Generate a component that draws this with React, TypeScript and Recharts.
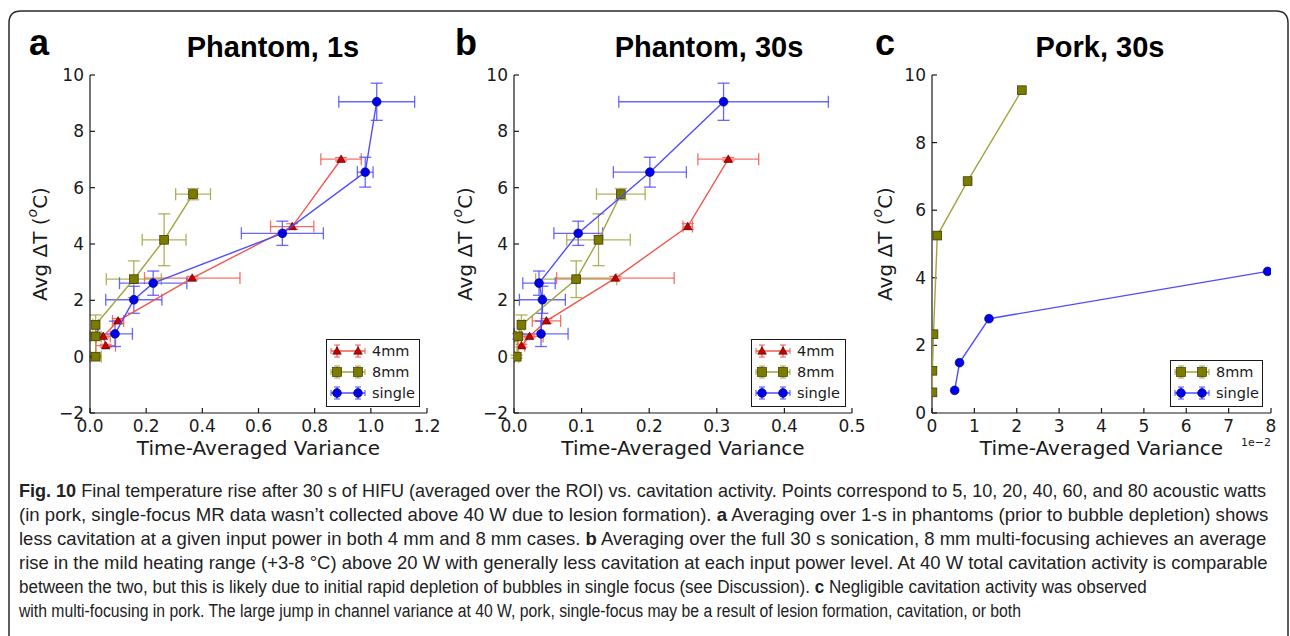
import React, { useLayoutEffect, useRef, useState } from "react";
import { ScatterChart, Scatter, XAxis, YAxis, ErrorBar, Legend } from "recharts";

// Temperatures (same runs in a and b), ordered 5, 10, 20, 40, 60, 80 W
const temp4mm = [0.39, 0.72, 1.27, 2.79, 4.62, 7.01];
const temp4mmErr = [0.05, 0.05, 0.08, 0.06, 0.1, 0.06];
const temp8mm = [0.0, 0.72, 1.13, 2.75, 4.15, 5.77];
const temp8mmErr = [0.05, 0.1, 0.35, 0.65, 0.92, 0.2];
const tempSingle = [0.81, 2.02, 2.61, 4.38, 6.55, 9.05];
const tempSingleErr = [0.45, 0.48, 0.43, 0.43, 0.53, 0.66];

// a: Phantom, 1s
const var1s4mm = [0.056, 0.047, 0.1, 0.364, 0.72, 0.894];
const var1s4mmErr = [0.035, 0.025, 0.02, 0.17, 0.077, 0.072];
const var1s8mm = [0.02, 0.02, 0.02, 0.156, 0.264, 0.367];
const var1s8mmErr = [0.02, 0.02, 0.01, 0.098, 0.078, 0.062];
const var1sSingle = [0.089, 0.156, 0.225, 0.685, 0.98, 1.021];
const var1sSingleErr = [0.062, 0.1, 0.12, 0.146, 0.028, 0.135];

// b: Phantom, 30s
const var30s4mm = [0.011, 0.023, 0.048, 0.15, 0.257, 0.317];
const var30s4mmErr = [0.005, 0.02, 0.021, 0.087, 0.007, 0.045];
const var30s8mm = [0.004, 0.006, 0.011, 0.092, 0.125, 0.158];
const var30s8mmErr = [0.003, 0.005, 0.004, 0.06, 0.047, 0.036];
const var30sSingle = [0.04, 0.042, 0.037, 0.095, 0.201, 0.31];
const var30sSingleErr = [0.04, 0.034, 0.024, 0.036, 0.054, 0.155];

// c: Pork, 30s (variance in units of 1e-2)
const pork8mmVar = [0.01, 0.01, 0.035, 0.125, 0.84, 2.12];
const pork8mmTemp = [0.61, 1.25, 2.33, 5.25, 6.86, 9.55];
const porkSingleVar = [0.535, 0.65, 1.345, 7.92];
const porkSingleTemp = [0.67, 1.49, 2.79, 4.19];

const xTicksA = [0, 0.2, 0.4, 0.6, 0.8, 1.0, 1.2];
const xTicksB = [0, 0.1, 0.2, 0.3, 0.4, 0.5];
const xTicksC = [0, 1, 2, 3, 4, 5, 6, 7, 8];
const yTicksAB = [-2, 0, 2, 4, 6, 8, 10];
const yTicksC = [0, 2, 4, 6, 8, 10];

// caption text, one entry per printed line, [text, bold]
const captionLines: [string, boolean][][] = [
  [["Fig. 10", true], [" Final temperature rise after 30 s of HIFU (averaged over the ROI) vs. cavitation activity. Points correspond to 5, 10, 20, 40, 60, and 80 acoustic watts", false]],
  [["(in pork, single-focus MR data wasn\u2019t collected above 40 W due to lesion formation). ", false], ["a", true], [" Averaging over 1-s in phantoms (prior to bubble depletion) shows", false]],
  [["less cavitation at a given input power in both 4 mm and 8 mm cases. ", false], ["b", true], [" Averaging over the full 30 s sonication, 8 mm multi-focusing achieves an average", false]],
  [["rise in the mild heating range (+3-8 \u00b0C) above 20 W with generally less cavitation at each input power level. At 40 W total cavitation activity is comparable", false]],
  [["between the two, but this is likely due to initial rapid depletion of bubbles in single focus (see Discussion). ", false], ["c", true], [" Negligible cavitation activity was observed", false]],
  [["with multi-focusing in pork. The large jump in channel variance at 40 W, pork, single-focus may be a result of lesion formation, cavitation, or both", false]],
];
// printed width of each caption line (layout)
const captionWidths = [1248, 1249, 1247, 1249, 1128, 1002];

const rows = (x: number[], y: number[], ex?: number[], ey?: number[]) =>
  x.map((v, i) => ({ x: v, y: y[i], ex: ex ? ex[i] : 0, ey: ey ? ey[i] : 0 }));

const RED = "#f4574d";
const OLIVE = "#a3a33f";
const BLUE = "#4d4dff";
const INK = "#1a1a1a";
const TICK_FONT = "DejaVu Sans, Verdana, sans-serif";

function TriMark({ cx, cy }: any) {
  const r = 4.3;
  return (
    <polygon
      points={`${cx},${cy - r} ${cx + r},${cy + r * 0.75} ${cx - r},${cy + r * 0.75}`}
      fill="#c80000"
      stroke="#3a0000"
      strokeWidth={0.6}
    />
  );
}
function SqMark({ cx, cy }: any) {
  const h = 4.4;
  return <rect x={cx - h} y={cy - h} width={2 * h} height={2 * h} fill="#7b7b00" stroke="#333300" strokeWidth={0.7} />;
}
function DotMark({ cx, cy }: any) {
  return <circle cx={cx} cy={cy} r={4.4} fill="#0000ea" stroke="#000060" strokeWidth={0.6} />;
}

const MARKS: Record<string, any> = { tri: TriMark, sq: SqMark, dot: DotMark };
const COLORS: Record<string, string> = { tri: RED, sq: OLIVE, dot: BLUE };

function LegendBox({ items }: { items: { name: string; kind: string }[] }) {
  return (
    <div
      style={{
        border: `1.5px solid ${INK}`,
        background: "#fff",
        boxSizing: "border-box",
        padding: "0 0 0 3px",
        width: "100%",
        height: "100%",
      }}
    >
      {items.map((it) => {
        const M = MARKS[it.kind];
        const c = COLORS[it.kind];
        return (
          <div key={it.name} style={{ display: "flex", alignItems: "center", height: 21 }}>
            <svg width={40} height={20} style={{ display: "block" }}>
              <line x1={1} x2={35} y1={10} y2={10} stroke={c} strokeWidth={1.3} />
              <line x1={1} x2={1} y1={7} y2={13} stroke={c} strokeWidth={1} />
              <line x1={35} x2={35} y1={7} y2={13} stroke={c} strokeWidth={1} />
              {[7, 28].map((px) => (
                <g key={px}>
                  <line x1={px} x2={px} y1={4} y2={16} stroke={c} strokeWidth={1.2} />
                  <line x1={px - 3} x2={px + 3} y1={4} y2={4} stroke={c} strokeWidth={1} />
                  <line x1={px - 3} x2={px + 3} y1={16} y2={16} stroke={c} strokeWidth={1} />
                  <M cx={px} cy={10} />
                </g>
              ))}
            </svg>
            <span style={{ fontFamily: TICK_FONT, fontSize: 14.5, color: INK, marginLeft: 2 }}>{it.name}</span>
          </div>
        );
      })}
    </div>
  );
}

// one caption line, squeezed horizontally to its printed width
function CaptionLine({ parts, y, width }: { parts: [string, boolean][]; y: number; width: number }) {
  const ref = useRef<SVGTextElement>(null);
  const [sx, setSx] = useState(0.85);
  useLayoutEffect(() => {
    const el = ref.current;
    if (el) {
      const w = el.getComputedTextLength();
      if (w > 0) setSx(width / w);
    }
  }, [width]);
  return (
    <text ref={ref} transform={`translate(19 ${y}) scale(${sx} 1)`} x={0} y={0}>
      {parts.map(([t, b], j) => (
        <tspan key={j} fontWeight={b ? "bold" : "normal"}>
          {t}
        </tspan>
      ))}
    </text>
  );
}

type Series = { name: string; kind: string; data: any[]; errors: boolean };

type PanelProps = {
  left: number;
  width: number;
  margin: { top: number; right: number; bottom: number; left: number };
  yAxisWidth: number;
  yLabelX: number;
  xDomain: [number, number];
  xTicks: number[];
  xFmt: (v: number) => string;
  yDomain: [number, number];
  yTicks: number[];
  series: Series[];
  legend: { left: number; top: number; width: number; height: number };
};

const CH = 470;
const fmtY = (v: number) => (v < 0 ? `\u2212${Math.abs(v)}` : String(v));
const axisLine = { stroke: INK, strokeWidth: 1.2 };
const tickText = { fill: INK, fontSize: 17, fontFamily: TICK_FONT };

function Panel(p: PanelProps) {
  const plotLeft = p.margin.left + p.yAxisWidth;
  const plotRight = p.width - p.margin.right;
  const plotTop = p.margin.top;
  const plotBottom = 413;
  const xLabel = () => (
    <text
      x={(plotLeft + plotRight) / 2}
      y={455}
      textAnchor="middle"
      fontFamily={TICK_FONT}
      fontSize={20}
      fill={INK}
    >
      Time-Averaged Variance
    </text>
  );
  const yLabel = () => (
    <text
      transform={`translate(${p.yLabelX},${(plotTop + plotBottom) / 2}) rotate(-90)`}
      textAnchor="middle"
      dominantBaseline="central"
      fontFamily={TICK_FONT}
      fontSize={20}
      fill={INK}
    >
      Avg {"\u0394"}T (
      <tspan fontStyle="italic" fontSize={14} dy={-8}>
        o
      </tspan>
      <tspan dy={8}>C)</tspan>
    </text>
  );
  return (
    <div style={{ position: "absolute", left: p.left, top: 0 }}>
      <ScatterChart width={p.width} height={CH} margin={p.margin}>
        <XAxis
          xAxisId="b"
          type="number"
          dataKey="x"
          domain={p.xDomain}
          ticks={p.xTicks}
          interval={0}
          tickFormatter={p.xFmt}
          allowDataOverflow
          height={42}
          tickSize={-5}
          tickMargin={12}
          axisLine={axisLine}
          tickLine={axisLine}
          tick={tickText}
          label={xLabel}
        />
        <XAxis
          xAxisId="t"
          orientation="top"
          type="number"
          domain={p.xDomain}
          ticks={p.xTicks}
          interval={0}
          allowDataOverflow
          height={0}
          tickSize={-5}
          axisLine={axisLine}
          tickLine={axisLine}
          tick={false}
        />
        <YAxis
          yAxisId="l"
          type="number"
          dataKey="y"
          domain={p.yDomain}
          ticks={p.yTicks}
          interval={0}
          tickFormatter={fmtY}
          allowDataOverflow
          width={p.yAxisWidth}
          tickSize={-5}
          tickMargin={11}
          axisLine={axisLine}
          tickLine={axisLine}
          tick={tickText}
          label={yLabel}
        />
        <YAxis
          yAxisId="r"
          orientation="right"
          type="number"
          domain={p.yDomain}
          ticks={p.yTicks}
          interval={0}
          allowDataOverflow
          width={0}
          tickSize={-5}
          axisLine={axisLine}
          tickLine={axisLine}
          tick={false}
        />
        {p.series.map((s) => (
          <Scatter
            key={s.name}
            name={s.name}
            xAxisId="b"
            yAxisId="l"
            data={s.data}
            line={{ stroke: COLORS[s.kind], strokeWidth: 1.4 }}
            shape={MARKS[s.kind]}
            isAnimationActive={false}
          >
            {s.errors && (
              <ErrorBar dataKey="ex" direction="x" width={6} stroke={COLORS[s.kind]} strokeWidth={1.3} strokeOpacity={0.85} />
            )}
            {s.errors && (
              <ErrorBar dataKey="ey" direction="y" width={6} stroke={COLORS[s.kind]} strokeWidth={1.3} strokeOpacity={0.85} />
            )}
          </Scatter>
        ))}
        <Legend
          layout="horizontal"
          verticalAlign="middle"
          align="center"
          wrapperStyle={{ ...p.legend }}
          content={() => <LegendBox items={p.series.map((s) => ({ name: s.name, kind: s.kind }))} />}
        />
      </ScatterChart>
    </div>
  );
}

export default function App() {
  const seriesA: Series[] = [
    { name: "4mm", kind: "tri", data: rows(var1s4mm, temp4mm, var1s4mmErr, temp4mmErr), errors: true },
    { name: "8mm", kind: "sq", data: rows(var1s8mm, temp8mm, var1s8mmErr, temp8mmErr), errors: true },
    { name: "single", kind: "dot", data: rows(var1sSingle, tempSingle, var1sSingleErr, tempSingleErr), errors: true },
  ];
  const seriesB: Series[] = [
    { name: "4mm", kind: "tri", data: rows(var30s4mm, temp4mm, var30s4mmErr, temp4mmErr), errors: true },
    { name: "8mm", kind: "sq", data: rows(var30s8mm, temp8mm, var30s8mmErr, temp8mmErr), errors: true },
    { name: "single", kind: "dot", data: rows(var30sSingle, tempSingle, var30sSingleErr, tempSingleErr), errors: true },
  ];
  const seriesC: Series[] = [
    { name: "8mm", kind: "sq", data: rows(pork8mmVar, pork8mmTemp), errors: false },
    { name: "single", kind: "dot", data: rows(porkSingleVar, porkSingleTemp), errors: false },
  ];

  return (
    <div
      style={{
        position: "absolute",
        left: 0,
        top: 0,
        width: 1290,
        height: 636,
        background: "#fff",
        overflow: "hidden",
      }}
    >
      <Panel
        left={0}
        width={440}
        margin={{ top: 75, right: 13, bottom: 15, left: 20 }}
        yAxisWidth={70}
        yLabelX={40}
        xDomain={[0, 1.2]}
        xTicks={xTicksA}
        xFmt={(v) => v.toFixed(1)}
        yDomain={[-2, 10]}
        yTicks={yTicksAB}
        series={seriesA}
        legend={{ left: 326, top: 339, width: 94, height: 68 }}
      />
      <Panel
        left={440}
        width={430}
        margin={{ top: 75, right: 18, bottom: 15, left: 14 }}
        yAxisWidth={60}
        yLabelX={25}
        xDomain={[0, 0.5]}
        xTicks={xTicksB}
        xFmt={(v) => v.toFixed(1)}
        yDomain={[-2, 10]}
        yTicks={yTicksAB}
        series={seriesB}
        legend={{ left: 311, top: 339, width: 95, height: 68 }}
      />
      <Panel
        left={870}
        width={420}
        margin={{ top: 75, right: 19, bottom: 15, left: 12 }}
        yAxisWidth={50}
        yLabelX={15}
        xDomain={[0, 8]}
        xTicks={xTicksC}
        xFmt={(v) => String(v)}
        yDomain={[0, 10]}
        yTicks={yTicksC}
        series={seriesC}
        legend={{ left: 300, top: 360, width: 93, height: 47 }}
      />
      <svg
        width={1290}
        height={636}
        style={{ position: "absolute", left: 0, top: 0, pointerEvents: "none" }}
      >
        <path
          d="M 9 660 L 9 23 Q 9 11 21 11 L 1276 11 Q 1288 11 1288 23 L 1288 660"
          fill="none"
          stroke="#2a2a2a"
          strokeWidth={1.5}
        />
        <g fontFamily="Liberation Sans, Arial, sans-serif" fontWeight="bold" fill="#000">
          <text x={29} y={55} fontSize={36}>a</text>
          <text x={455} y={55} fontSize={36}>b</text>
          <text x={875} y={55} fontSize={36}>c</text>
          <text x={273} y={57} fontSize={29} textAnchor="middle">Phantom, 1s</text>
          <text x={709} y={57} fontSize={29} textAnchor="middle">Phantom, 30s</text>
          <text x={1100} y={57} fontSize={29} textAnchor="middle">Pork, 30s</text>
        </g>
        <text x={1256} y={446} fontSize={11} textAnchor="middle" fontFamily={TICK_FONT} fill={INK}>
          1e{"\u2212"}2
        </text>
        <g fontFamily="Liberation Sans, Arial, sans-serif" fontSize={19} fill="#222">
          {captionLines.map((line, i) => (
            <CaptionLine key={i} parts={line} y={497 + i * 24} width={captionWidths[i]} />
          ))}
        </g>
      </svg>
    </div>
  );
}
